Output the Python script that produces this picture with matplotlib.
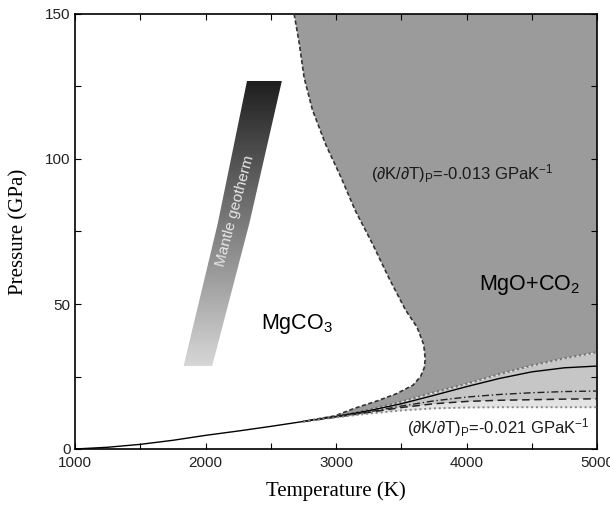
import numpy as np
import matplotlib
matplotlib.use("Agg")
import matplotlib.pyplot as plt
from matplotlib.patches import Polygon

plt.rcParams['font.family'] = ['Liberation Sans', 'DejaVu Sans']
plt.rcParams['mathtext.fontset'] = 'custom'
plt.rcParams['mathtext.rm'] = 'Liberation Sans'
plt.rcParams['mathtext.it'] = 'Liberation Sans:italic'
plt.rcParams['mathtext.bf'] = 'Liberation Sans:bold'

# ---- data ----
# common low-temperature boundary
T_low = [1000, 1250, 1500, 1750, 2000, 2250, 2500, 2750]
P_low = [0, 0.6, 1.6, 3.0, 4.7, 6.2, 7.8, 9.5]

# branches above ~2750 K
T_br = [2750, 3000, 3250, 3500, 3750, 4000, 4250, 4500, 4750, 5000]
P_top_dot = [9.5, 11.3, 13.5, 16.3, 19.5, 22.5, 25.8, 28.8, 31.3, 33.4]
P_solid = [9.5, 11.2, 13.2, 15.6, 18.5, 21.5, 24.3, 26.6, 28.0, 28.6]
P_dashdot = [9.5, 11.1, 12.8, 14.8, 16.6, 17.9, 18.8, 19.4, 19.8, 20.0]
P_dashed = [9.5, 11.0, 12.6, 14.3, 15.6, 16.4, 16.8, 17.0, 17.2, 17.3]
P_low_dot = [9.5, 10.9, 12.2, 13.3, 14.0, 14.3, 14.4, 14.4, 14.4, 14.4]

# nose-shaped boundary of MgO+CO2 field (dK/dT = -0.013)
P_nose = [150, 140, 128, 117, 105, 94, 82, 71, 59, 48, 42, 36, 31, 28, 25, 22, 19, 16.5,
          14, 11.4, 9.5]
T_nose = [2679, 2718, 2756, 2819, 2921, 3035, 3150, 3277, 3405, 3532, 3621, 3672, 3684,
          3676, 3648, 3590, 3460, 3310, 3140, 2990, 2750]

# mantle geotherm band edges
P_geo = [28.6, 77.8, 126.9]
T_geo_left = [1832, 2094, 2318]
T_geo_right = [2051, 2336, 2585]

x_ticks = [1000, 2000, 3000, 4000, 5000]
y_ticks = [0, 50, 100, 150]

# ---- figure ----
fig = plt.figure(figsize=(6.10, 5.07), dpi=100)
ax = fig.add_axes([75/610, 58/507, 522/610, 435/507])
ax.set_xlim(1000, 5000)
ax.set_ylim(0, 150)

# dark grey MgO+CO2 field
poly_T = list(T_nose) + list(T_br) + [5000]
poly_P = list(P_nose) + list(P_top_dot) + [150]
ax.fill(poly_T, poly_P, color='#9b9b9b', lw=0, zorder=1)

# lighter bands
ax.fill_between(T_br, P_dashed, P_top_dot, color='#c6c6c6', lw=0, zorder=1)
ax.fill_between(T_br, P_low_dot, P_dashed, color='#e3e3e3', lw=0, zorder=1)

# lines
ax.plot(T_low, P_low, color='black', lw=1.0, zorder=3)
ax.plot(T_nose, P_nose, color='#333333', lw=1.2, ls=(0, (2.5, 1.5)), zorder=3)
ax.plot(T_br, P_top_dot, color='#777777', lw=1.6, ls=(0, (1, 1.2)), zorder=3)
ax.plot(T_br, P_solid, color='black', lw=1.0, zorder=3)
ax.plot(T_br, P_dashdot, color='#222222', lw=1.0, ls=(0, (5, 2, 1, 2)), zorder=3)
ax.plot(T_br, P_dashed, color='#222222', lw=1.1, ls=(0, (5, 3)), zorder=3)
ax.plot(T_br, P_low_dot, color='#888888', lw=1.4, ls=(0, (1, 1.5)), zorder=3)

# mantle geotherm gradient band
geo_poly = Polygon(list(zip(T_geo_left, P_geo)) + list(zip(T_geo_right[::-1], P_geo[::-1])),
                   closed=True, facecolor='none', edgecolor='none')
ax.add_patch(geo_poly)
grad = np.linspace(0.12, 0.84, 256)[:, None]
im = ax.imshow(grad, cmap='gray', vmin=0, vmax=1, origin='upper', aspect='auto',
               extent=[1800, 2620, P_geo[0], P_geo[-1]], zorder=2, interpolation='bilinear')
im.set_clip_path(geo_poly)
ax.set_xlim(1000, 5000)
ax.set_ylim(0, 150)
ax.text(2229, 82, 'Mantle geotherm', rotation=75, rotation_mode='anchor',
        ha='center', va='center', color='#e6e6e6', fontsize=11, zorder=4)

# labels
ax.text(2698, 41.3, 'MgCO$_3$', ha='center', va='baseline', fontsize=15.5, zorder=4)
ax.text(4486, 54.8, 'MgO+CO$_2$', ha='center', va='baseline', fontsize=15.5, zorder=4)
ax.text(3267, 92.8, '(\u2202K/\u2202T)$_\\mathregular{P}$=-0.013 GPaK$^\\mathregular{-1}$',
        ha='left', va='baseline', fontsize=12, color='#1a1a1a', zorder=4)
ax.text(3542, 5.4, '(\u2202K/\u2202T)$_\\mathregular{P}$=-0.021 GPaK$^\\mathregular{-1}$',
        ha='left', va='baseline', fontsize=12, color='#1a1a1a', zorder=4)

# axes styling
ax.set_xticks(x_ticks)
ax.set_yticks(y_ticks)
ax.set_xticks(np.arange(1500, 5000, 1000), minor=True)
ax.set_yticks([25, 75, 125], minor=True)
ax.tick_params(which='both', direction='in', top=True, right=True, length=4, width=0.8,
               labelsize=11, labelcolor='#222222', pad=3)
ax.tick_params(axis='x', pad=5)
for s in ax.spines.values():
    s.set_linewidth(1.2)
ax.set_xlabel('Temperature (K)', family='Liberation Serif', fontsize=15, labelpad=8)
ax.set_ylabel('Pressure (GPa)', family='Liberation Serif', fontsize=15, labelpad=12)

fig.savefig('out.png', dpi=100)
